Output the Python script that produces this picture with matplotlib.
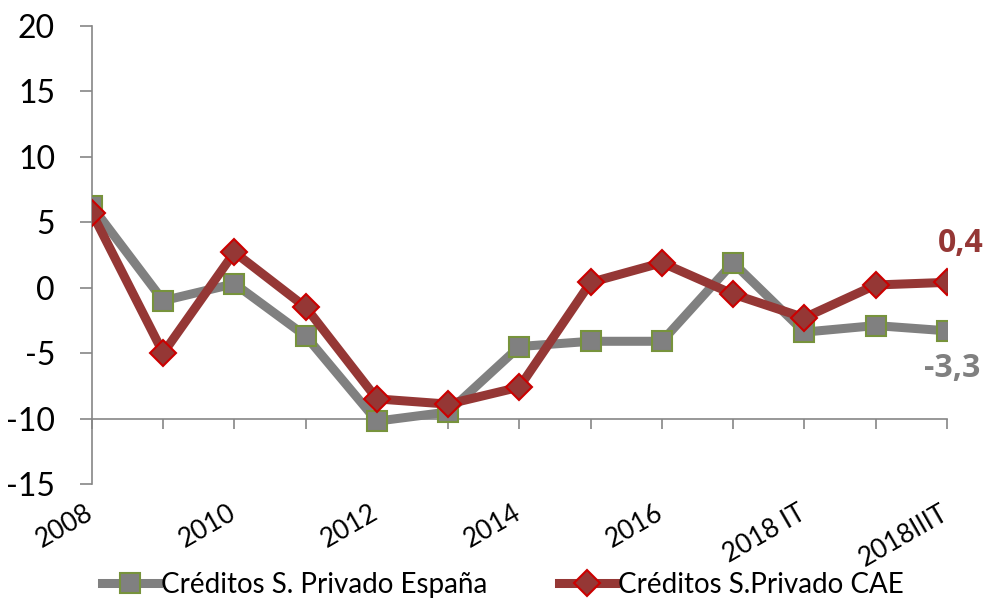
import matplotlib.pyplot as plt
import numpy as np

plt.rcParams['font.family'] = ['Lato', 'DejaVu Sans']
plt.rcParams['axes.unicode_minus'] = False

categorias = ['2008', '2009', '2010', '2011', '2012', '2013', '2014', '2015',
              '2016', '2017', '2018 IT', '2018IIT', '2018IIIT']
espana = [6.2, -1.0, 0.3, -3.7, -10.2, -9.5, -4.5, -4.1, -4.1, 1.9, -3.4, -2.9, -3.3]
cae = [5.7, -5.0, 2.7, -1.5, -8.5, -8.9, -7.6, 0.4, 1.9, -0.5, -2.3, 0.2, 0.4]
etiquetas_x = ['2008', '', '2010', '', '2012', '', '2014', '', '2016', '', '2018 IT', '', '2018IIIT']

gris = '#808080'
rojo = '#953735'

fig = plt.figure(figsize=(9.86, 5.99), dpi=100)
ax = fig.add_axes([0.0933, 0.192, 0.867, 0.765])

x = np.arange(len(categorias))
ax.plot(x, espana, color=gris, lw=6.5, marker='s', ms=14,
        mfc=gris, mec='#77933C', mew=1.5, label='Créditos S. Privado España', zorder=3)
ax.plot(x, cae, color=rojo, lw=6.5, marker='D', ms=13,
        mfc=rojo, mec='#CC0000', mew=1.5, label='Créditos S.Privado CAE', zorder=4)

ax.set_xlim(0, len(categorias) - 1)
ax.set_ylim(-15, 20)
ax.set_yticks(range(-15, 21, 5))
ax.tick_params(axis='y', labelsize=23, length=8.6, width=1.2, color='#868686', pad=18)
ax.tick_params(axis='x', length=7, width=1.2, color='#868686', labelbottom=False)
ax.set_xticks(x)

for s in ['top', 'right']:
    ax.spines[s].set_visible(False)
ax.spines['left'].set_color('#868686')
ax.spines['left'].set_linewidth(1.2)
ax.spines['bottom'].set_color('#868686')
ax.spines['bottom'].set_linewidth(1.2)
ax.spines['bottom'].set_position(('data', -10))

for xi, lab in zip(x, etiquetas_x):
    if lab:
        ax.text(xi - 0.1, -0.035, lab, transform=ax.get_xaxis_transform(),
                rotation=30, rotation_mode='anchor', ha='right', va='top', fontsize=19)

ax.annotate('0,4', (x[-1], cae[-1]), xytext=(10, 28), textcoords='offset points',
            ha='center', va='center', fontsize=23, fontweight='bold', color=rojo,
            family=['Open Sans', 'DejaVu Sans'])
ax.annotate('-3,3', (x[-1], espana[-1]), xytext=(4, -27), textcoords='offset points',
            ha='center', va='center', fontsize=23, fontweight='bold', color=gris,
            family=['Open Sans', 'DejaVu Sans'])

fig.legend(loc='lower center', bbox_to_anchor=(0.51, -0.04), ncol=2, frameon=False,
           fontsize=20, handlelength=2.0, handletextpad=0.1, columnspacing=2.6)

fig.savefig('out.png', dpi=100)
